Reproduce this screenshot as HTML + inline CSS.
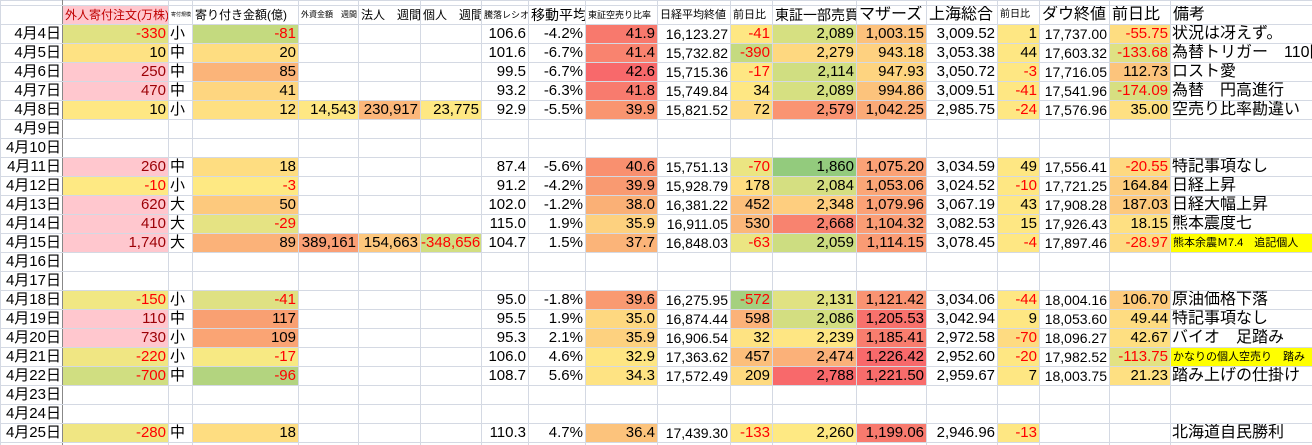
<!DOCTYPE html>
<html><head><meta charset="utf-8">
<style>
html,body{margin:0;padding:0;background:#fff;width:1312px;height:445px;overflow:hidden}
table{border-collapse:collapse;table-layout:fixed;width:1312px;font-family:"Liberation Sans","Noto Sans CJK JP",sans-serif;font-size:15px;color:#000}
td{border:1px solid #d4d9e3;height:18px;padding:0 2px 0 0;text-align:right;white-space:nowrap;overflow:hidden;line-height:18px;box-sizing:border-box}
tr.t td{height:5px;line-height:5px;font-size:4px}
tr.h td{text-align:left;padding-left:2px;height:19px}
td.d{border-right:1px solid #888;padding-right:1px;font-size:15px}
td.l{text-align:left;padding-left:1px}
.n{color:#f00}
.P{background:#ffc7ce;color:#9c0006}
.Y{background:#fee783}
.HY{background:#ffff00;font-size:11px;text-align:left;padding-left:2px}
.s8{font-size:8px}.s9{font-size:9px}.s10{font-size:10px}.s11{font-size:11px}.s12{font-size:12px}.s13{font-size:14px}.s14{font-size:14px}.s16{font-size:16px}
</style></head><body>
<table>
<colgroup>
<col style="width:62px"><col style="width:106px"><col style="width:24px"><col style="width:106px"><col style="width:60px"><col style="width:62px"><col style="width:61px"><col style="width:47px"><col style="width:57px"><col style="width:72px"><col style="width:73px"><col style="width:42px"><col style="width:84px"><col style="width:70px"><col style="width:71px"><col style="width:42px"><col style="width:70px"><col style="width:61px"><col style="width:142px">
</colgroup>
<tr class="t"><td class="d"></td><td></td><td></td><td></td><td></td><td></td><td></td><td></td><td></td><td></td><td></td><td></td><td></td><td></td><td></td><td></td><td></td><td></td><td></td></tr>
<tr class="h"><td class="d"></td><td class="s12" style="background:#ffc7ce;color:#c00000">外人寄付注文(万株)</td><td style="font-size:5px">寄付規模</td><td class="s12">寄り付き金額(億)</td><td class="s8">外資金額　週間</td><td class="s12">法人　週間</td><td class="s12">個人　週間</td><td class="s9">騰落レシオ</td><td class="s14">移動平均</td><td class="s9">東証空売り比率</td><td class="s11">日経平均終値</td><td class="s11">前日比</td><td class="s13">東証一部売買</td><td class="s16">マザーズ</td><td class="s16">上海総合</td><td class="s10">前日比</td><td class="s16">ダウ終値</td><td class="s16">前日比</td><td class="s16">備考</td></tr>

<tr><td class="d">4月4日</td><td class="n" style="background:#e0e282">-330</td><td class="l">小</td><td class="n" style="background:#c4da7f">-81</td><td></td><td></td><td></td><td>106.6</td><td>-4.2%</td><td style="background:#f8796d">41.9</td><td class="s13">16,123.27</td><td class="n Y">-41</td><td style="background:#d6e081">2,089</td><td style="background:#fcc17c">1,003.15</td><td>3,009.52</td><td class="Y">1</td><td class="s13">17,737.00</td><td class="n" style="background:#fedd81">-55.75</td><td class="l s16">状況は冴えず。</td></tr>

<tr><td class="d">4月5日</td><td style="background:#fee283">10</td><td class="l">中</td><td style="background:#fedd81">20</td><td></td><td></td><td></td><td>101.6</td><td>-6.7%</td><td style="background:#f9836f">41.4</td><td class="s13">15,732.82</td><td class="n" style="background:#c5da80">-390</td><td style="background:#fed880">2,279</td><td style="background:#fed180">943.18</td><td>3,053.38</td><td class="Y">44</td><td class="s13">17,603.32</td><td class="n" style="background:#dfe183">-133.68</td><td class="l s16">為替トリガー　110円</td></tr>

<tr><td class="d">4月6日</td><td class="P">250</td><td class="l">中</td><td style="background:#fbb479">85</td><td></td><td></td><td></td><td>99.5</td><td>-6.7%</td><td style="background:#f8696b">42.6</td><td class="s13">15,715.36</td><td class="n Y">-17</td><td style="background:#d0de81">2,114</td><td style="background:#fed480">947.93</td><td>3,050.72</td><td class="n Y">-3</td><td class="s13">17,716.05</td><td style="background:#fcc47c">112.73</td><td class="l s16">ロスト愛</td></tr>

<tr><td class="d">4月7日</td><td class="P">470</td><td class="l">中</td><td style="background:#fed680">41</td><td></td><td></td><td></td><td>93.2</td><td>-6.3%</td><td style="background:#f87b6e">41.8</td><td class="s13">15,749.84</td><td class="Y">34</td><td style="background:#d6e081">2,089</td><td style="background:#fcc37c">994.86</td><td>3,009.51</td><td class="n Y">-41</td><td class="s13">17,541.96</td><td class="n" style="background:#d7df81">-174.09</td><td class="l s16">為替　円高進行</td></tr>

<tr><td class="d">4月8日</td><td class="Y">10</td><td class="l">小</td><td style="background:#fee082">12</td><td class="Y">14,543</td><td style="background:#fcb77a">230,917</td><td style="background:#fee883">23,775</td><td>92.9</td><td>-5.5%</td><td style="background:#f99570">39.9</td><td class="s13">15,821.52</td><td style="background:#fedb81">72</td><td style="background:#fa9472">2,579</td><td style="background:#fbaa77">1,042.25</td><td>2,985.75</td><td class="n Y">-24</td><td class="s13">17,576.96</td><td style="background:#fee082">35.00</td><td class="l s16">空売り比率勘違い</td></tr>

<tr><td class="d">4月9日</td><td></td><td></td><td></td><td></td><td></td><td></td><td></td><td></td><td></td><td></td><td></td><td></td><td></td><td></td><td></td><td></td><td></td><td></td></tr>
<tr><td class="d">4月10日</td><td></td><td></td><td></td><td></td><td></td><td></td><td></td><td></td><td></td><td></td><td></td><td></td><td></td><td></td><td></td><td></td><td></td><td></td></tr>

<tr><td class="d">4月11日</td><td class="P">260</td><td class="l">中</td><td style="background:#fedd81">18</td><td></td><td></td><td></td><td>87.4</td><td>-5.6%</td><td style="background:#f9906f">40.6</td><td class="s13">15,751.13</td><td class="n" style="background:#ebe582">-70</td><td style="background:#93cb7d">1,860</td><td style="background:#fba276">1,075.20</td><td>3,034.59</td><td class="Y">49</td><td class="s13">17,556.41</td><td class="n" style="background:#fed980">-20.55</td><td class="l s16">特記事項なし</td></tr>

<tr><td class="d">4月12日</td><td class="n" style="background:#fee983">-10</td><td class="l">小</td><td class="n" style="background:#fee983">-3</td><td></td><td></td><td></td><td>91.2</td><td>-4.2%</td><td style="background:#f99a71">39.9</td><td class="s13">15,928.79</td><td style="background:#fedd81">178</td><td style="background:#d5df81">2,084</td><td style="background:#fba677">1,053.06</td><td>3,024.52</td><td class="n Y">-10</td><td class="s13">17,721.25</td><td style="background:#fdcd7e">164.84</td><td class="l s16">日経上昇</td></tr>

<tr><td class="d">4月13日</td><td class="P">620</td><td class="l">大</td><td style="background:#fdc97d">50</td><td></td><td></td><td></td><td>102.0</td><td>-1.2%</td><td style="background:#fab076">38.0</td><td class="s13">16,381.22</td><td style="background:#fcbf7b">452</td><td style="background:#fece7f">2,348</td><td style="background:#fba176">1,079.96</td><td>3,067.19</td><td class="Y">43</td><td class="s13">17,908.28</td><td style="background:#fdc97d">187.03</td><td class="l s16">日経大幅上昇</td></tr>

<tr><td class="d">4月14日</td><td class="P">410</td><td class="l">大</td><td class="n" style="background:#e5e383">-29</td><td></td><td></td><td></td><td>115.0</td><td>1.9%</td><td style="background:#fdd17f">35.9</td><td class="s13">16,911.05</td><td style="background:#fbb77a">530</td><td style="background:#f8836f">2,668</td><td style="background:#fa9d75">1,104.32</td><td>3,082.53</td><td class="Y">15</td><td class="s13">17,926.43</td><td style="background:#fee082">18.15</td><td class="l s16">熊本震度七</td></tr>

<tr><td class="d">4月15日</td><td class="P">1,740</td><td class="l">大</td><td style="background:#fbb279">89</td><td style="background:#fa9f75">389,161</td><td style="background:#fdc77d">154,663</td><td class="n" style="background:#d2de81">-348,656</td><td>104.7</td><td>1.5%</td><td style="background:#fbb479">37.7</td><td class="s13">16,848.03</td><td class="n" style="background:#ebe582">-63</td><td style="background:#cddd81">2,059</td><td style="background:#fa9b74">1,114.15</td><td>3,078.45</td><td class="n Y">-4</td><td class="s13">17,897.46</td><td class="n" style="background:#fedb81">-28.97</td><td class="HY">熊本余震Ｍ7.4　追記個人</td></tr>

<tr><td class="d">4月16日</td><td></td><td></td><td></td><td></td><td></td><td></td><td></td><td></td><td></td><td></td><td></td><td></td><td></td><td></td><td></td><td></td><td></td><td></td></tr>
<tr><td class="d">4月17日</td><td></td><td></td><td></td><td></td><td></td><td></td><td></td><td></td><td></td><td></td><td></td><td></td><td></td><td></td><td></td><td></td><td></td><td></td></tr>

<tr><td class="d">4月18日</td><td class="n" style="background:#f1e783">-150</td><td class="l">小</td><td class="n" style="background:#dfe183">-41</td><td></td><td></td><td></td><td>95.0</td><td>-1.8%</td><td style="background:#f99a71">39.6</td><td class="s13">16,275.95</td><td class="n" style="background:#a5d07f">-572</td><td style="background:#e0e282">2,131</td><td style="background:#f99372">1,121.42</td><td>3,034.06</td><td class="n Y">-44</td><td class="s13">18,004.16</td><td style="background:#fdcb7d">106.70</td><td class="l s16">原油価格下落</td></tr>

<tr><td class="d">4月19日</td><td class="P">110</td><td class="l">中</td><td style="background:#f9a072">117</td><td></td><td></td><td></td><td>95.5</td><td>1.9%</td><td style="background:#fed880">35.0</td><td class="s13">16,874.44</td><td style="background:#fbb279">598</td><td style="background:#d3de81">2,086</td><td style="background:#f8716c">1,205.53</td><td>3,042.94</td><td class="Y">9</td><td class="s13">18,053.60</td><td style="background:#fedc81">49.44</td><td class="l s16">特記事項なし</td></tr>

<tr><td class="d">4月20日</td><td class="P">730</td><td class="l">小</td><td style="background:#faa474">109</td><td></td><td></td><td></td><td>95.3</td><td>2.1%</td><td style="background:#fdd17f">35.9</td><td class="s13">16,906.54</td><td style="background:#fee382">32</td><td style="background:#fee683">2,239</td><td style="background:#f87d6e">1,185.41</td><td>2,972.58</td><td class="n" style="background:#fedb81">-70</td><td class="s13">18,096.27</td><td style="background:#fedf81">42.67</td><td class="l s16">バイオ　足踏み</td></tr>

<tr><td class="d">4月21日</td><td class="n" style="background:#f0e683">-220</td><td class="l">小</td><td class="n" style="background:#f7e983">-17</td><td></td><td></td><td></td><td>106.0</td><td>4.6%</td><td style="background:#fee683">32.9</td><td class="s13">17,363.62</td><td style="background:#fcbf7b">457</td><td style="background:#fbb179">2,474</td><td style="background:#f8696b">1,226.42</td><td>2,952.60</td><td class="n Y">-20</td><td class="s13">17,982.52</td><td class="n" style="background:#e3e283">-113.75</td><td class="HY">かなりの個人空売り　踏み</td></tr>

<tr><td class="d">4月22日</td><td class="n" style="background:#d0de81">-700</td><td class="l">中</td><td class="n" style="background:#b3d47f">-96</td><td></td><td></td><td></td><td>108.7</td><td>5.6%</td><td style="background:#fee383">34.3</td><td class="s13">17,572.49</td><td style="background:#feda80">209</td><td style="background:#f8696b">2,788</td><td style="background:#f86c6b">1,221.50</td><td>2,959.67</td><td class="Y">7</td><td class="s13">18,003.75</td><td style="background:#fee082">21.23</td><td class="l s16">踏み上げの仕掛け</td></tr>

<tr><td class="d">4月23日</td><td></td><td></td><td></td><td></td><td></td><td></td><td></td><td></td><td></td><td></td><td></td><td></td><td></td><td></td><td></td><td></td><td></td><td></td></tr>
<tr><td class="d">4月24日</td><td></td><td></td><td></td><td></td><td></td><td></td><td></td><td></td><td></td><td></td><td></td><td></td><td></td><td></td><td></td><td></td><td></td><td></td></tr>

<tr><td class="d">4月25日</td><td class="n" style="background:#f0e683">-280</td><td class="l">中</td><td style="background:#fedd81">18</td><td></td><td></td><td></td><td>110.3</td><td>4.7%</td><td style="background:#fcc37c">36.4</td><td class="s13">17,439.30</td><td class="n Y">-133</td><td style="background:#fee983">2,260</td><td style="background:#f87a6e">1,199.06</td><td>2,946.96</td><td class="n Y">-13</td><td></td><td></td><td class="l s16">北海道自民勝利</td></tr>
<tr><td class="d"></td><td></td><td></td><td></td><td></td><td></td><td></td><td></td><td></td><td></td><td></td><td></td><td></td><td></td><td></td><td></td><td></td><td></td><td></td></tr>
</table>
</body></html>
